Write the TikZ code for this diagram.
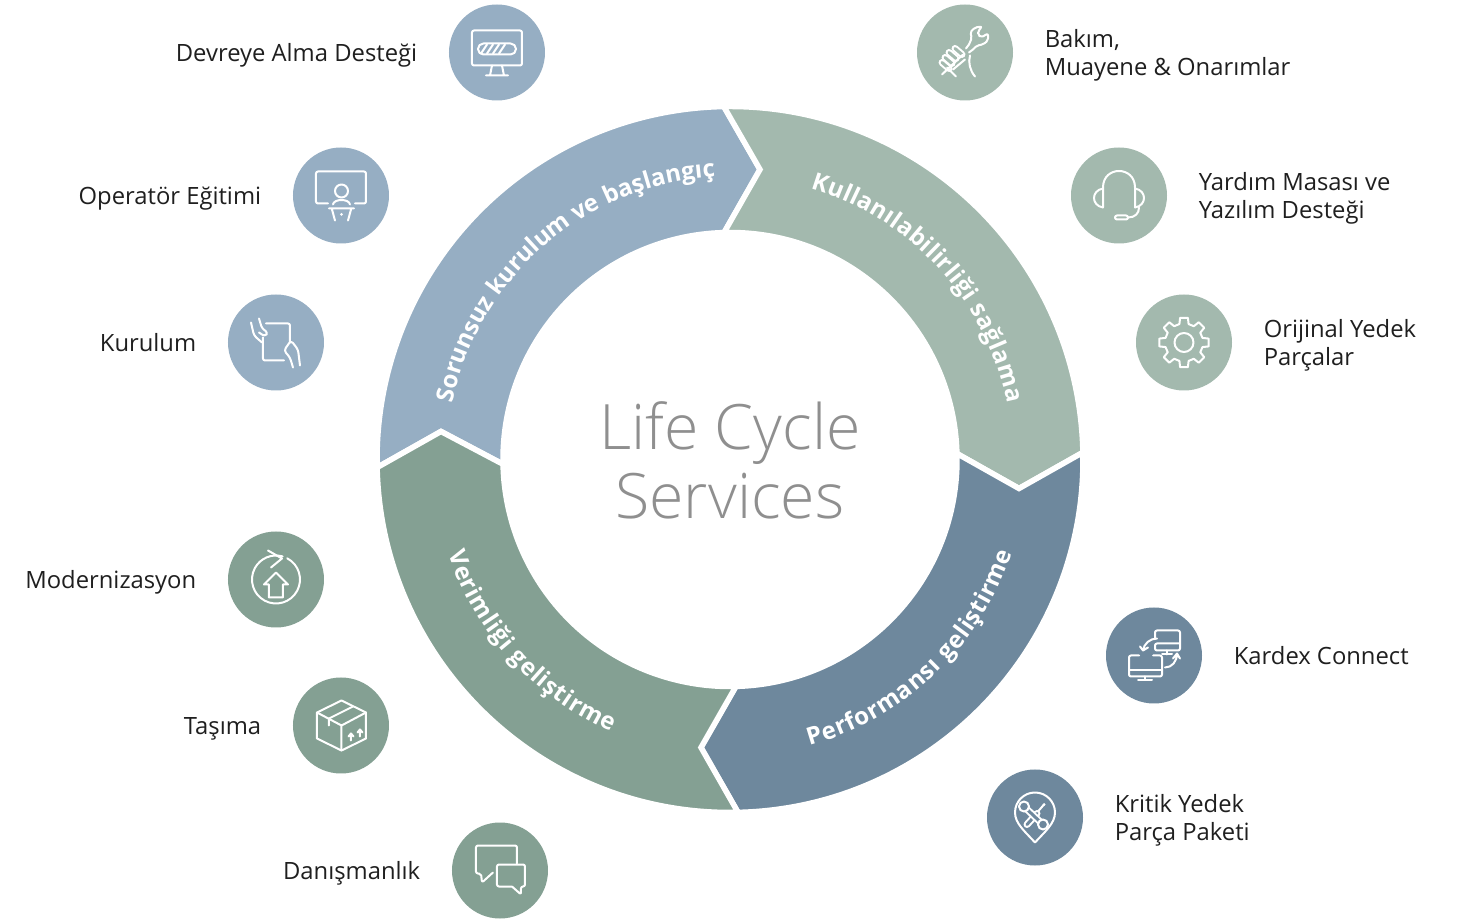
\documentclass[tikz,border=0pt]{standalone}
\usepackage{fontspec}
\setmainfont{Open Sans}
\newfontfamily\titlefont{Open Sans Light}
\usetikzlibrary{positioning,decorations.text}

\definecolor{bluecol}{HTML}{96AEC3}
\definecolor{sagecol}{HTML}{A3B9AE}
\definecolor{darksagecol}{HTML}{84A093}
\definecolor{steelcol}{HTML}{6E889D}
\definecolor{titlecol}{HTML}{8F8F8F}

\tikzset{
	blob/.style={circle,minimum size=48pt,inner sep=0pt},
	labeltext/.style={inner sep=0pt,align=left,yshift=-1.5pt,text=black!88,font=\fontsize{11.9}{14}\selectfont},
	segment/.style={draw=white,line width=2.75pt,line join=miter},
	icon/.style={draw=white,line width=1pt,line cap=round,line join=round},
	ringtext/.style={decorate,decoration={text along path,text align={fit to path},text={#1}}}
}
\newcommand{\ringfont}{\color{white}\fontsize{12}{14}\selectfont\bfseries}

\begin{document}
\begin{tikzpicture}[x=.5pt,y=.5pt]
	\path[use as bounding box,fill=white] (-730,459.5) rectangle (731,-459.5);

	\coordinate (tiptop) at (30,290);
	\coordinate (tipright) at (289,-29);
	\coordinate (tipbottom) at (-29,-288);
	\coordinate (tipleft) at (-289,28);

	% ring
	\draw[segment,fill=bluecol] (181.3:353) arc[start angle=181.3,end angle=91,radius=353] -- (tiptop) -- (91.5:227) arc[start angle=91.5,end angle=181.2,radius=227] -- (tipleft) -- cycle;
	\draw[segment,fill=sagecol] (91:353) arc[start angle=91,end angle=1.15,radius=353] -- (tipright) -- (1.5:227) arc[start angle=1.5,end angle=91.5,radius=227] -- (tiptop) -- cycle;
	\draw[segment,fill=steelcol] (1.15:353) arc[start angle=1.15,end angle=-88.7,radius=353] -- (tipbottom) -- (-88.5:227) arc[start angle=-88.5,end angle=1.5,radius=227] -- (tipright) -- cycle;
	\draw[segment,fill=darksagecol] (-88.7:353) arc[start angle=-88.7,end angle=-178.7,radius=353] -- (tipleft) -- (-178.8:227) arc[start angle=-178.8,end angle=-88.5,radius=227] -- (tipbottom) -- cycle;

	\path[ringtext={|\ringfont|Sorunsuz kurulum ve başlangıç}] (168.5:283) arc[start angle=168.5,end angle=93.5,radius=283];
	\path[ringtext={|\ringfont|Kullanılabilirliği sağlama}] (73.5:283) arc[start angle=73.5,end angle=11.5,radius=283];
	\path[ringtext={|\ringfont|Performansı geliştirme}] (-74.5:297) arc[start angle=-74.5,end angle=-18.3,radius=297];
	\path[ringtext={|\ringfont|Verimliği geliştirme}] (198.5:297) arc[start angle=198.5,end angle=246.5,radius=297];

	\node (title) at (0,-1) [align=center,text=titlecol,font=\titlefont\fontsize{31.3}{34.5}\selectfont] {Life Cycle\\Services};

	% circles
	\node (devreye) at (-233,407) [blob,fill=bluecol] {};
	\node (operator) at (-389,264) [blob,fill=bluecol] {};
	\node (kurulum) at (-454,117) [blob,fill=bluecol] {};
	\node (modern) at (-454,-120) [blob,fill=darksagecol] {};
	\node (tasima) at (-389,-266) [blob,fill=darksagecol] {};
	\node (danisman) at (-230,-411) [blob,fill=darksagecol] {};
	\node (bakim) at (235,407) [blob,fill=sagecol] {};
	\node (yardim) at (389,264) [blob,fill=sagecol] {};
	\node (orijinal) at (454,117) [blob,fill=sagecol] {};
	\node (kardex) at (424,-196) [blob,fill=steelcol] {};
	\node (kritik) at (305,-358) [blob,fill=steelcol] {};

	% labels
	\node (devreyetext) [labeltext,left=15.5pt of devreye] {Devreye Alma Desteği};
	\node (operatortext) [labeltext,left=15.5pt of operator] {Operatör Eğitimi};
	\node (kurulumtext) [labeltext,yshift=1.5pt,left=15.5pt of kurulum] {Kurulum};
	\node (moderntext) [labeltext,left=15.5pt of modern] {Modernizasyon};
	\node (tasimatext) [labeltext,left=15.5pt of tasima] {Taşıma};
	\node (danismantext) [labeltext,left=15.5pt of danisman] {Danışmanlık};
	\node (bakimtext) [labeltext,right=15.5pt of bakim] {Bakım,\\Muayene \& Onarımlar};
	\node (yardimtext) [labeltext,right=15.5pt of yardim] {Yardım Masası ve\\Yazılım Desteği};
	\node (orijinaltext) [labeltext,right=15.5pt of orijinal] {Orijinal Yedek\\Parçalar};
	\node (kardextext) [labeltext,yshift=1.5pt,right=15.5pt of kardex] {Kardex Connect};
	\node (kritiktext) [labeltext,right=15.5pt of kritik] {Kritik Yedek\\Parça Paketi};

	% icons
	\begin{scope}[shift={(devreye.center)}]
		\draw[icon,rounded corners=1pt] (-25,-13) rectangle (25,22);
		\draw[icon] (-5,-13) -- (-7,-23) (5,-13) -- (7,-23) (-11,-23) -- (11,-23);
		\draw[icon,rounded corners=2.7pt] (-19,-2) rectangle (19,9);
		\foreach \x in {-16,-10,-4,2} \draw[icon] (\x,-1) -- (\x+6,8);
	\end{scope}
	\begin{scope}[shift={(operator.center)}]
		\draw[icon,rounded corners=1pt] (-13,-8) -- (-25,-8) -- (-25,24) -- (25,24) -- (25,-8) -- (14,-8);
		\draw[icon] (.5,4.5) circle (6.5);
		\draw[icon] (-8,-9) .. controls (-7,-3) and (8,-3) .. (9,-9);
		\draw[icon] (-12,-13) -- (13,-13) (-9,-14) -- (-6,-25) (10,-14) -- (7,-25);
		\fill[white] (.5,-19) circle (1.5);
	\end{scope}
	\begin{scope}[shift={(kurulum.center)}]
		\draw[icon,rounded corners=1pt] (-10,19) -- (14,19) -- (14,0) (8,-18) -- (-13,-18) -- (-13,5);
		\draw[icon,rounded corners=1.5pt] (-25,20) -- (-22,7) -- (-14,0) (-17,24) -- (-14,14) -- (-8,10) -- (-11,6) -- (-17,10);
		\draw[icon,rounded corners=1.5pt] (24,-23) -- (22,-7) -- (15,2) -- (8,-8) -- (14,-15) -- (17,-25);
	\end{scope}
	\begin{scope}[shift={(modern.center)}]
		\draw[icon] (62:24) arc[start angle=62,end angle=-286,radius=24];
		\draw[icon] (-8,29) -- (6,21) -- (-5,12);
		\draw[icon] (-7,-5) -- (-12,-5) -- (0,7) -- (12,-5) -- (7,-5) -- (7,-18) -- (-7,-18) -- cycle;
	\end{scope}
	\begin{scope}[shift={(tasima.center)}]
		\draw[icon] (.5,25) -- (25,13) -- (25,-13) -- (.5,-25) -- (-24,-13) -- (-24,13) -- cycle;
		\draw[icon] (-24,13) -- (.5,0) -- (25,13) (.5,0) -- (.5,-25);
		\draw[icon] (12,19) -- (-12,7) -- (-12,0);
		\draw[icon] (10,-15) -- (10,-9) (7.5,-11) -- (10,-8) -- (12.5,-11);
		\draw[icon] (19,-11) -- (19,-4) (16.5,-7) -- (19,-4) -- (21.5,-7);
	\end{scope}
	\begin{scope}[shift={(danisman.center)}]
		\draw[icon,rounded corners=1pt] (17,7) -- (17,25) -- (-24,25) -- (-24,-3) -- (-19,-3) -- (-18,-12) -- (-7,-2);
		\draw[icon,rounded corners=1pt] (12,-16) -- (-3,-16) -- (-3,6) -- (25,6) -- (25,-16) -- (21,-16) -- (21,-24) -- (12,-16);
	\end{scope}
	\begin{scope}[shift={(bakim.center)}]
		\draw[icon,rounded corners=1pt] (4,8) -- (7,15) -- (5,20) -- (10,25) -- (17,26) -- (13,21) -- (13,18) -- (16,15) -- (23,19) -- (23,12) -- (18,8) -- (12,7) -- (8,3);
		\draw[icon] (4,8) -- (1,4) (8,3) -- (4,0);
		\foreach \x/\y in {-10/4,-16/0,-20/-5,-23/-10} \draw[icon,double=sagecol,double distance=1.5pt] (\x,\y) -- (\x+7,\y-6);
		\draw[icon] (-23,-22) -- (-2,-2) (0,-7) -- (-12,-17) (-18,-15) -- (-9,-24);
		\draw[icon] (5,-3) .. controls (3,-10) and (5,-18) .. (10,-24);
	\end{scope}
	\begin{scope}[shift={(yardim.center)}]
		\draw[icon] (-16,-12) -- (-16,8) .. controls (-16,30) and (16,30) .. (16,8) -- (16,-12);
		\draw[icon] (-16,7) .. controls (-28,5) and (-28,-10) .. (-16,-12);
		\draw[icon] (16,7) .. controls (28,5) and (28,-10) .. (16,-12);
		\draw[icon] (20,-12) .. controls (20,-18) and (16,-22) .. (9,-22);
		\draw[icon,rounded corners=1pt] (-4,-20) rectangle (9,-24);
	\end{scope}
	\begin{scope}[shift={(orijinal.center)}]
		\draw[icon] (0,0) circle (9.5);
		\foreach \a in {0,45,...,315}
			\draw[icon] (\a+76:19) -- (\a+81:25) -- (\a+99:25) -- (\a+104:19) arc[start angle=\a+104,end angle=\a+121,radius=19];
	\end{scope}
	\begin{scope}[shift={(kardex.center)}]
		\draw[icon,rounded corners=1pt] (-15,0) -- (-25,0) -- (-25,-21) -- (8,-21) -- (8,0) -- (-1,0);
		\draw[icon] (-25,-15) -- (8,-15) (-9,-21) -- (-9,-24) (-16,-25) -- (-2,-25);
		\draw[icon,rounded corners=1pt] (1,17) -- (1,25) -- (26,25) -- (26,5) -- (1,5) -- (1,12) -- (26,12);
		\draw[icon] (13,5) -- (13,1) (8,1) -- (18,1);
		\draw[icon] (3,17) .. controls (-4,17) and (-10,12) .. (-11,5) (-14,9) -- (-11,5) -- (-6,8);
		\draw[icon] (11,-12) .. controls (18,-12) and (23,-6) .. (23,2) (19,-3) -- (23,2) -- (26,-3);
	\end{scope}
	\begin{scope}[shift={(kritik.center)}]
		\draw[icon] (0,-25) .. controls (-10,-14) and (-20,-6) .. (-20,5) arc[start angle=180,end angle=0,radius=20] .. controls (20,-6) and (10,-14) .. (0,-25);
		\draw[icon] (9,13) -- (3,6);
		\fill[white] (9,13) circle (1.5);
		\draw[icon,double=steelcol,double distance=1.5pt] (2,4) -- (-8,-7);
		\draw[icon,double=steelcol,double distance=1.5pt] (-11,11) -- (8,-7);
		\draw[icon,fill=steelcol] (-11,11) circle (5);
		\draw[icon,fill=steelcol] (8,-7) circle (5);
	\end{scope}
\end{tikzpicture}
\end{document}
